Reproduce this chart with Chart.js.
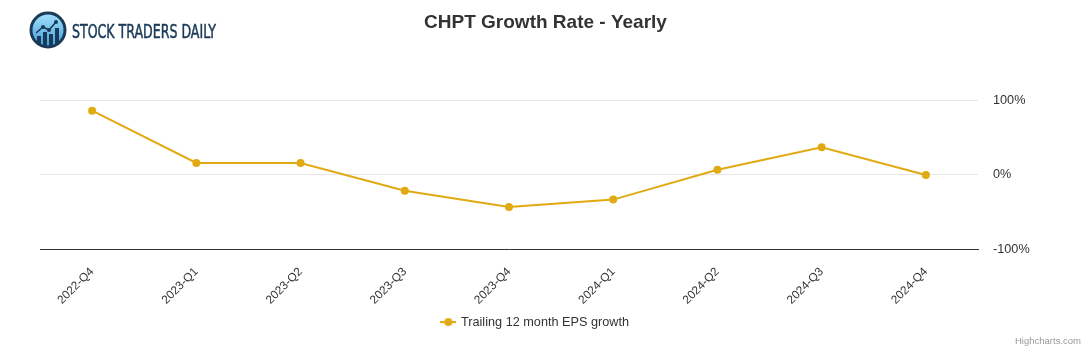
<!DOCTYPE html>
<html>
<head>
<meta charset="utf-8">
<title>CHPT Growth Rate - Yearly</title>
<script src="https://cdn.jsdelivr.net/npm/chart.js@4.4.1/dist/chart.umd.min.js"></script>
<style>
    html, body { margin: 0; padding: 0; background: #fff; }
    #wrap { position: relative; width: 1091px; height: 350px; }
    #logo { position: absolute; left: 0; top: 0; }
    #credits {
        position: absolute; right: 10px; top: 335px;
        font: 9.5px "Liberation Sans", Arial, sans-serif; color: #999;
    }
</style>
</head>
<body>
<div id="wrap">
    <canvas id="chart-growth" width="1091" height="350"></canvas>
    <svg id="logo" width="230" height="60" viewBox="0 0 230 60">
        <defs>
            <linearGradient id="lg" x1="0" y1="0" x2="0" y2="1">
                <stop offset="0" stop-color="#a6e0fb"/>
                <stop offset="1" stop-color="#3c9fdc"/>
            </linearGradient>
        </defs>
        <circle cx="48" cy="30" r="17" fill="url(#lg)" stroke="#1b3a58" stroke-width="3"/>
        <rect x="37" y="36" width="4" height="9" fill="#1b3a58"/>
        <rect x="43" y="32" width="4" height="14" fill="#1b3a58"/>
        <rect x="49" y="34" width="4" height="12" fill="#1b3a58"/>
        <rect x="55" y="28" width="4" height="16" fill="#1b3a58"/>
        <polyline points="36,33 43,27 49,30 56,22" fill="none" stroke="#1b3a58" stroke-width="1.5"/>
        <circle cx="43" cy="27" r="2" fill="#1b3a58"/>
        <circle cx="49" cy="30" r="2" fill="#1b3a58"/>
        <circle cx="56" cy="22" r="2" fill="#1b3a58"/>
        <text x="72" y="38" textLength="144" lengthAdjust="spacingAndGlyphs"
              font-family="'Liberation Sans Narrow','DejaVu Sans Condensed',sans-serif"
              font-size="19" fill="#1b3a58" stroke="#1b3a58" stroke-width="0.5">STOCK TRADERS DAILY</text>
    </svg>
    <div id="credits">Highcharts.com</div>
</div>
<script>
'use strict';

/* ── Data ────────────────────────────────────────────────────── */
const quarters = ['2022-Q4', '2023-Q1', '2023-Q2', '2023-Q3', '2023-Q4',
                  '2024-Q1', '2024-Q2', '2024-Q3', '2024-Q4'];
const epsGrowth = [86, 16, 16, -21, -43, -33, 7, 37, 0];
const yTicks = [-100, 0, 100];

const LINE = '#e1aa12';
const FONT = '"Liberation Sans", Arial, sans-serif';

// legend symbol: short line with a dot, Highcharts style
function legendSymbol() {
    const cv = document.createElement('canvas');
    cv.width = 16; cv.height = 10;
    const g = cv.getContext('2d');
    g.strokeStyle = LINE; g.lineWidth = 2;
    g.beginPath(); g.moveTo(0, 5); g.lineTo(16, 5); g.stroke();
    g.fillStyle = LINE;
    g.beginPath(); g.arc(8, 5, 4, 0, Math.PI * 2); g.fill();
    return cv;
}

// nudge the legend a little to the left, like the original
const legendShift = {
    id: 'legendShift',
    afterLayout(chart) { if (chart.legend) chart.legend.left -= 20; }
};

const config = {
    type: 'line',
    data: {
        labels: quarters,
        datasets: [{
            label: 'Trailing 12 month EPS growth',
            data: epsGrowth,
            borderColor: LINE,
            backgroundColor: LINE,
            borderWidth: 2,
            pointRadius: 4,
            pointBorderWidth: 0,
            pointBackgroundColor: LINE,
            tension: 0,
            fill: false,
        }]
    },
    options: {
        responsive: false,
        animation: false,
        layout: { padding: { left: 40, right: 40, top: 0, bottom: 11.6 } },
        scales: {
            x: {
                type: 'category',
                offset: true,
                grid: { display: false },
                border: { display: true, color: '#333', width: 1 },
                ticks: {
                    color: '#333', font: { family: FONT, size: 11.8 },
                    minRotation: 45, maxRotation: 45, autoSkip: false, padding: 7
                },
                afterFit: s => { s.height = 56; }
            },
            y: {
                position: 'right',
                min: -100, max: 100,
                afterBuildTicks: s => { s.ticks = yTicks.map(v => ({ value: v })); },
                grid: {
                    color: ctx => ctx.tick && ctx.tick.value === -100 ? 'rgba(0,0,0,0)' : '#e6e6e6',
                    drawTicks: false
                },
                border: { display: false },
                ticks: {
                    color: '#333', padding: 15, font: { family: FONT, size: 12.7 },
                    callback: v => v + '%'
                },
                afterFit: s => { s.width = 73; }
            }
        },
        plugins: {
            title: {
                display: true,
                text: 'CHPT Growth Rate - Yearly',
                color: '#333',
                font: { family: FONT, size: 19, weight: 'bold' },
                padding: { top: 11, bottom: 66.4 }
            },
            legend: {
                position: 'bottom',
                labels: {
                    usePointStyle: true,
                    pointStyle: legendSymbol(),
                    color: '#333',
                    font: { family: FONT, size: 12.7 },
                    padding: 10
                }
            },
            tooltip: { enabled: false }
        }
    },
    plugins: [legendShift]
};

new Chart(document.getElementById('chart-growth'), config);
</script>
</body>
</html>
